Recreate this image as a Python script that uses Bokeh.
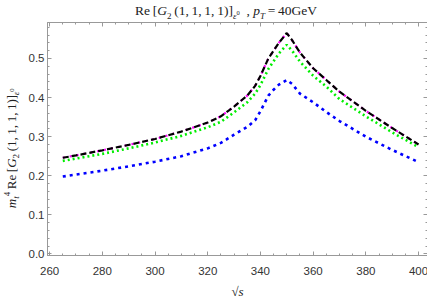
from bokeh.plotting import figure
from bokeh.models import LinearAxis, FixedTicker, PrintfTickFormatter, Range1d, Div
from bokeh.layouts import row, column
from bokeh.embed import file_html
from bokeh.resources import INLINE

sqrt_s = [265, 270, 280, 290, 300, 310, 320, 325, 330, 335, 338, 340, 343, 345, 347,
          350, 352, 355, 360, 365, 370, 380, 390, 400]
black = [0.246, 0.252, 0.265, 0.279, 0.294, 0.313, 0.336, 0.352, 0.377, 0.405, 0.430, 0.455,
         0.500, 0.520, 0.540, 0.565, 0.547, 0.515, 0.475, 0.445, 0.415, 0.366, 0.322, 0.280]
magenta = [0.246, 0.252, 0.265, 0.279, 0.294, 0.313, 0.336, 0.352, 0.377, 0.405, 0.430, 0.455,
           0.500, 0.520, 0.540, 0.565, 0.547, 0.515, 0.475, 0.445, 0.415, 0.366, 0.322, 0.280]
green = [0.238, 0.244, 0.256, 0.270, 0.285, 0.302, 0.324, 0.338, 0.362, 0.388, 0.410, 0.432,
         0.473, 0.493, 0.513, 0.535, 0.520, 0.492, 0.456, 0.428, 0.396, 0.352, 0.311, 0.273]
blue = [0.198, 0.203, 0.213, 0.224, 0.236, 0.250, 0.270, 0.284, 0.305, 0.325, 0.342, 0.365,
        0.405, 0.420, 0.433, 0.445, 0.435, 0.410, 0.388, 0.363, 0.340, 0.300, 0.266, 0.235]

x_ticks = [260, 280, 300, 320, 340, 360, 380, 400]
x_minor = list(range(260, 405, 5))
y_ticks = [0.0, 0.1, 0.2, 0.3, 0.4, 0.5]
y_minor = [round(i * 0.02, 2) for i in range(0, 30)]

serif = "Liberation Serif"
sans = "Liberation Sans"

p = figure(width=405, height=279, output_backend="svg", toolbar_location=None,
           x_range=Range1d(259.2, 403.4), y_range=Range1d(-0.004, 0.592),
           min_border_left=23, min_border_right=2, min_border_top=0, min_border_bottom=46)
p.grid.visible = False
p.outline_line_color = "#999999"
p.background_fill_color = "white"
p.border_fill_color = "white"

p.line(sqrt_s, blue, line_color="#0000ff", line_width=2.6, line_dash="3 4")
p.line(sqrt_s, green, line_color="#00ee00", line_width=2.6, line_dash="2 3")
p.line(sqrt_s, magenta, line_color="#ff00ff", line_width=2.2, line_dash="2 5")
p.line(sqrt_s, black, line_color="#000000", line_width=2.2, line_dash="6 3")


def style_axis(ax, ticks, minor, labels=True, fmt=None):
    ax.ticker = FixedTicker(ticks=ticks, minor_ticks=minor)
    ax.axis_line_color = "#999999"
    ax.major_tick_line_color = "#999999"
    ax.minor_tick_line_color = "#999999"
    ax.major_tick_in = 4
    ax.major_tick_out = 0
    ax.minor_tick_in = 2
    ax.minor_tick_out = 0
    if fmt is not None:
        ax.formatter = fmt
    if labels:
        ax.major_label_text_font = sans
        ax.major_label_text_font_size = "11.5px"
        ax.major_label_text_color = "#333333"
    else:
        ax.major_label_text_font_size = "0px"
        ax.major_label_text_alpha = 0
        ax.major_label_standoff = 0


style_axis(p.xaxis[0], x_ticks, x_minor)
p.xaxis[0].major_label_standoff = 11
p.xaxis[0].axis_label = "\u221as"
p.xaxis[0].axis_label_text_font = serif
p.xaxis[0].axis_label_text_font_style = "italic"
p.xaxis[0].axis_label_text_font_size = "13px"
p.xaxis[0].axis_label_text_color = "#222222"
p.xaxis[0].axis_label_standoff = 6

style_axis(p.yaxis[0], y_ticks, y_minor, fmt=PrintfTickFormatter(format="%.1f"))
p.yaxis[0].major_label_standoff = 3

top = LinearAxis()
style_axis(top, x_ticks, x_minor, labels=False)
p.add_layout(top, "above")
right = LinearAxis()
style_axis(right, y_ticks, y_minor, labels=False)
p.add_layout(right, "right")

title_html = (
    "<div style=\"position:relative;top:-2px;font-family:'Liberation Serif';font-size:13.5px;line-height:14px;"
    "padding-left:106px;white-space:nowrap;color:#222;\">"
    "Re&thinsp;[<i>G</i><sub style='font-size:9px;line-height:0'>2</sub>&thinsp;(1,&thinsp;1,&thinsp;1,&thinsp;1)]"
    "<sub style='font-size:9px;line-height:0'><i>\u03b5</i><sup style='font-size:6.5px;line-height:0'>0</sup></sub>"
    "&nbsp;&nbsp;,&nbsp;<i>p</i><sub style='font-size:9px;line-height:0'><i>T</i></sub>&thinsp;=&thinsp;40GeV</div>"
)
title_div = Div(text=title_html, width=405, height=12)

ylab_html = (
    "<div style=\"width:14px;height:291px;display:flex;align-items:center;justify-content:center;"
    "box-sizing:border-box;padding-bottom:4px;\">"
    "<span style=\"writing-mode:vertical-rl;transform:rotate(180deg);font-family:'Liberation Serif';"
    "font-size:13px;white-space:nowrap;color:#222;\">"
    "<i>m</i><sub style='font-size:9px;line-height:0'><i>t</i></sub><sup style='font-size:9px;line-height:0'>4</sup>"
    "&thinsp;Re&thinsp;[<i>G</i><sub style='font-size:9px;line-height:0'>2</sub>&thinsp;(1,&thinsp;1,&thinsp;1,&thinsp;1)]"
    "<sub style='font-size:9px;line-height:0'><i>\u03b5</i><sup style='font-size:6.5px;line-height:0'>0</sup></sub>"
    "</span></div>"
)
ylab_div = Div(text=ylab_html, width=14, height=291)

layout = row(ylab_div, column(title_div, p, spacing=0), spacing=0)

open("out.html", "w").write(file_html(layout, INLINE))
